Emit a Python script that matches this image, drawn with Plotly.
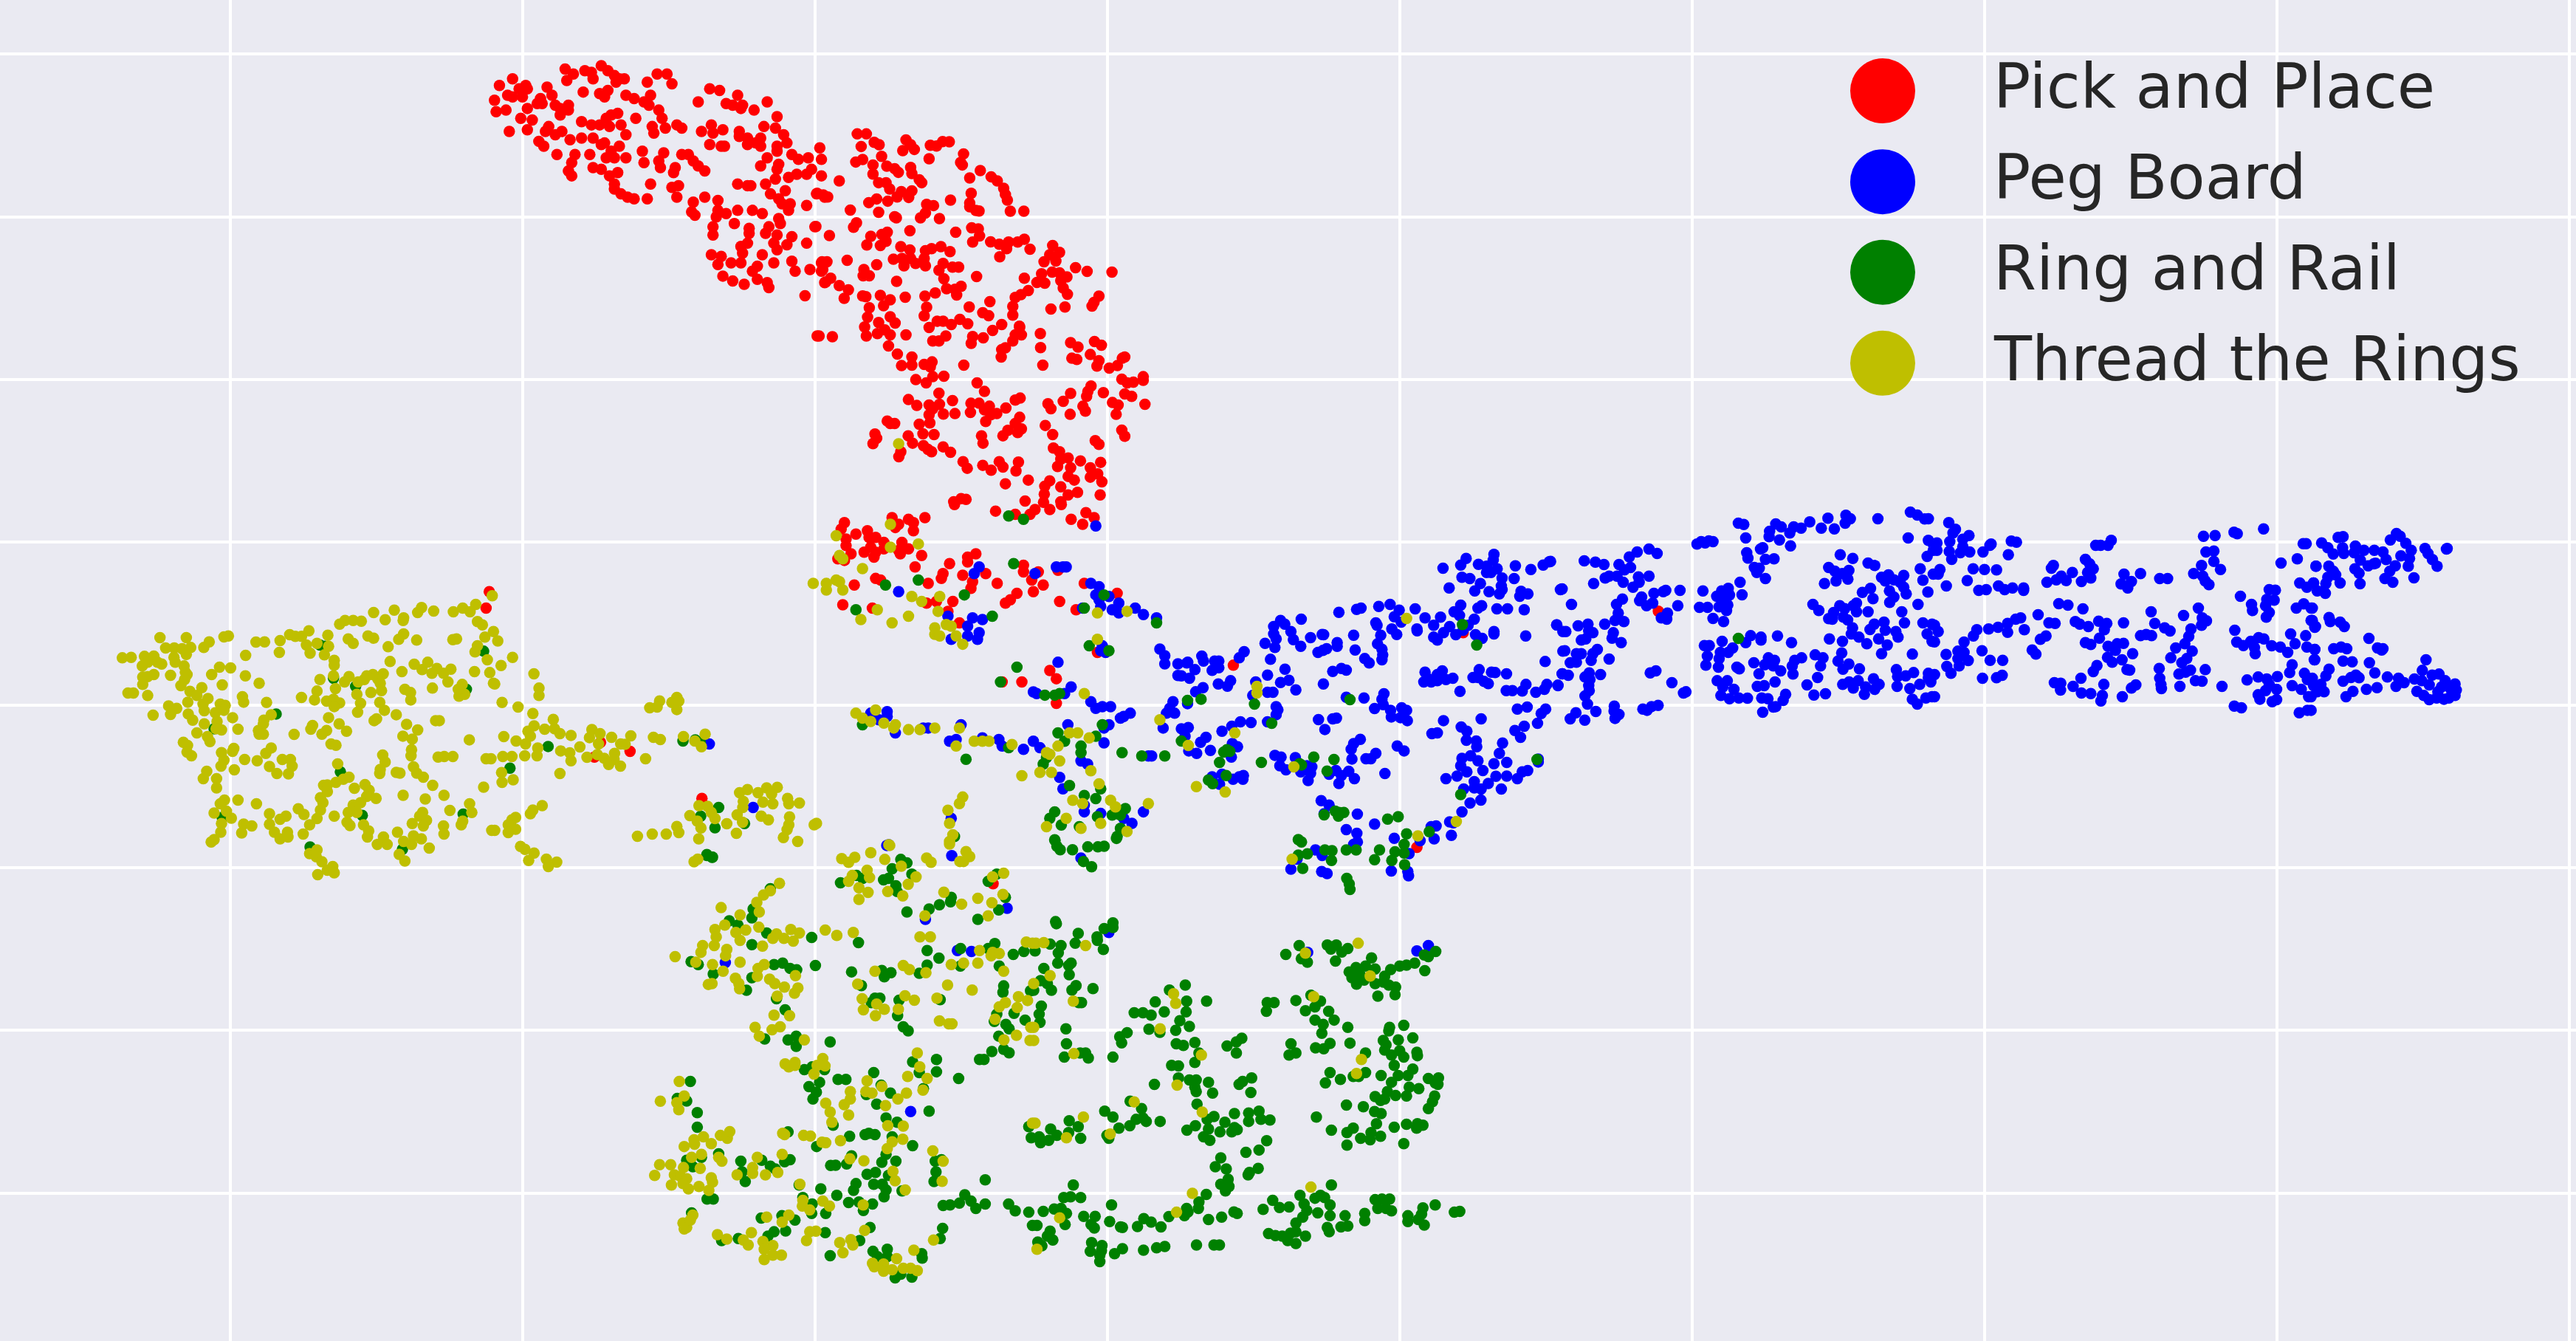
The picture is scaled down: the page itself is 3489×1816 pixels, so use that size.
import plotly.graph_objects as go

categories = ["Pick and Place", "Peg Board", "Ring and Rail", "Thread the Rings"]
colors = ["#ff0000", "#0000ff", "#008000", "#bfbf00"]
x_ticks = [140, 318, 496, 674, 852, 1030, 1208, 1386, 1564]
y_ticks = [33, 132, 231, 330, 429, 528, 627, 726]

# Unlabelled embedding: the axes use an arbitrary unit. Readings below come in groups; groups read
# on a finer scale are brought to the axis unit by to_units().
def to_units(pts, x0, y0, sx=3.0, sy=3.0):
    return [((x0 + a / sx) / 2.225, (y0 + b / sy) / 2.225) for a, b in pts]

red_a = [(312,48),(304,52),(301,61),(302,68),(308,67),(310,80),(321,79),(317,72),(324,73),(321,66),(329,60),(327,63),(330,63),(309,58),(312,59),(318,59),(316,54),(320,52),(321,54),(333,53),(336,58),(338,64),(346,64),(346,67),(341,70),(341,66),(344,42),(349,45),(345,49),(356,43),(360,44),(361,48),(355,56),(366,40),(370,43),(374,46),(375,50),(380,48),(377,48),(370,55),(365,57),(368,59),(381,58),(386,60),(392,62),(394,50),(400,45),(406,45),(409,51),(396,58),(395,64),(401,67),(403,72),(387,72),(376,69),(372,70),(369,72),(354,74),(360,76),(365,76),(371,77),(378,76),(381,82),(397,77),(398,81),(405,78),(412,76),(415,78),(334,77),(332,80),(338,82),(342,80),(347,85),(354,84),(361,84),(328,86),(331,89),(339,94),(350,94),(359,94),(348,99),(346,104),(348,107),(366,88),(368,87),(377,89),(372,92),(369,96),(374,96),(381,96),(391,92),(392,99),(404,93),(401,98),(402,102),(415,94),(419,94),(422,98),(425,101),(429,104),(411,102),(410,105),(361,102),(366,103),(371,107),(376,105),(374,112),(374,115),(378,118),(382,120),(386,121),(396,112),(394,121),(413,113),(409,114),(412,120),(422,123),(421,129),(423,131),(429,120),(437,122),(437,128),(436,132),(442,130),(449,128),(458,128),(464,130),(434,138),(434,143),(447,136),(456,139),(456,142),(455,148),(451,150),(452,154),(433,155),(439,156),(437,161),(445,160),(451,160),(440,168),(446,171),(453,173),(461,170),(458,165),(461,162),(464,155),(471,160),(467,172),(468,175),(466,142),(468,138),(474,133),(475,136),(473,143),(471,148),(473,152),(479,149),(482,144),(491,148),(496,138),(482,159),(484,165),(493,164),(500,160),(500,165),(490,180),(502,172),
(432,54),(438,55),(425,62),(442,63),(449,58),(446,64),(452,64),(451,66),(459,67),(467,62),(473,71),(465,77),(472,78),(477,82),(479,87),(473,89),(473,92),(467,96),(463,101),(474,100),(473,103),(472,109),(466,112),(469,118),(478,116),(474,121),(476,124),(481,124),(480,128),(491,125),(497,118),(502,120),(480,108),(485,106),(491,106),(494,103),(500,107),(482,94),(486,97),(492,96),(499,90),(500,97),(433,76),(434,81),(440,79),(427,80),(432,88),(439,89),(441,89),(450,80),(450,83),(455,84),(455,88),(463,84),(460,87),(463,89),(449,112),(455,113),(457,113),
(514,318),(512,322),(515,328),(515,332),(518,337),(510,340),(514,341),(521,325),(528,323),(529,327),(533,327),(538,330),(530,333),(526,336),(532,339),(533,336),(538,334),(543,315),(547,319),(545,321),(553,316),(556,318),(556,323),(563,315),(549,330),(547,335),(553,334),(548,337),(561,338),(557,345),(606,311),(618,313),(627,313),(630,310),(639,310),(646,307),(652,316),(659,319),(661,312),(666,315),(581,307),(520,356),(533,352),(536,353),(565,355),(573,352),(574,349),(578,343),(586,350),(589,339),(589,342),(594,337),(600,349),(592,354),(591,358),(607,355),(623,344),(623,348),(628,353),(632,348),(635,356),(629,360),(619,361),(615,365),(612,367),(645,366),(655,371),(660,355),(680,361),(580,366),(570,366),(564,367),(577,372),(513,368),(531,370),(584,379),(610,415),(622,415),(639,408),(643,413),(643,428),(668,397),(644,347)]

red_b = [(183,64),(220,64),(199,115),(252,98),(272,108),(381,88),(400,108),(415,127),(368,132),(480,110),(505,113),(530,95),(557,96),(475,165),(615,145),(603,180),(610,190),(683,213),(640,243),(727,238),(752,255),(778,285),(785,310),(793,333),(805,378),(860,378),(646,305),(640,345),(640,360),(665,375),(678,377),(562,333),(282,155),(247,190),(247,227),(177,178),(205,168),(303,195),(335,205),(350,220),(400,200),(405,225),(435,250),(445,262),(270,262),(300,262),(315,288),(110,255),(20,305),(45,312),(63,320),(362,298),(345,320),(392,322),(405,295),(307,337),(262,328),(230,343),(155,373),(270,382),(335,400),(342,405),(465,350),(493,355),(460,385),(440,405),(517,408),(180,425),(168,443),(15,440),(70,477),(397,457),(583,463),(648,445),(675,450),(680,478),(652,503),(725,502),(760,512),(798,503),(835,503),(862,492),(885,532),(790,530),(762,563),(238,480),(222,515),(283,472),(305,463),(300,500),(277,517),(360,522),(397,535),(460,538),(485,530),(523,522),(560,542),(330,573),(365,570),(400,570),(373,600),(420,590),(460,600),(455,570),(532,590),(515,618),(535,652),(570,605),(595,605),(668,643),(142,577),(262,595),(40,583),(60,583),(43,615),(75,650),(55,665),(110,680),(147,697),(130,732),(210,615),(207,640),(232,640),(343,663),(205,722),(218,725),(277,720),(317,738),(290,762),(378,727),(458,723),(500,710),(546,693),(580,695),(605,683),(587,718),(232,770),(225,808),(213,848),(220,885),(270,830),(265,875),(295,860),(317,880),(310,925),(317,807),(337,832),(381,880),(465,768),(455,803),(475,850),(508,825),(532,825),(565,838),(600,817),(632,835),(638,767),(722,745),(693,790),(717,802),(770,838),(733,862),(20,885),(28,885),(82,888),(490,905),(515,905),(543,885),(652,887),(646,915),(695,892),(770,940),(785,933),(768,970),(815,905),(825,880),(843,850),(850,880),(842,845),(815,800),(815,765),(825,728),(848,717),(878,700),(862,650),(913,667),(932,632),(945,670),(942,583),(965,555),(977,517),(1005,545),(990,580),(975,625),(1005,628),(1035,645),(1010,660),(1020,690),(1037,715),(1070,607),(1117,622),(1218,625),(1165,723),(1145,748),(1137,763),(970,775),(1027,767),(927,875),(928,932),(937,1003),(1050,912),(1080,930),(1055,975),(1075,980),(1130,960),(1165,985),(1157,1007),(1207,1015),(1240,1005),(1260,975),(1270,970),(1147,907),(1175,922),(1258,1060),(1280,1075),(1305,1072),(1345,1050),(1345,1065),(1298,1130),(1270,1120),(1352,1162),(1183,1115),(1133,1088),(1120,1110),(1115,1130),(1050,1118),(1020,1150),(958,1160),(970,1180),(1048,1203),(1100,1170),(1110,1190),(1220,1155),(1243,1165),(1235,1203),(1258,1267),(1270,1292),(947,1248),(977,1285),(1150,1310),(1165,1325),(980,1340),(1005,1355),(1040,1380),(1010,1385),(997,1415),(1050,1420),(1090,1392),(1130,1420),(1160,1445),(1172,1398),(1177,1477),(1130,1458),(1040,1455),(1065,1470),(965,1473),(945,1495),(1010,1497),(1078,1520),(943,1527),(1040,1530),(1170,1530),(865,1555),(940,1560),(1010,1558),(605,1545),(575,1558),(625,1548),(878,1470),(785,1485),(838,1397),(828,1433),(760,1395),(775,1417),(727,1430),(693,1410),(630,1422),(613,1395),(562,1357),(532,1335),(495,1285),(485,1355),(470,1345),(452,1330),(408,1320),(390,1290),(450,1282),(435,1243),(478,1238),(475,1205),(533,1202),(580,1200),(570,1147),(517,1162),(475,1165),(490,1180),(425,1167),(391,1143),(515,1117),(670,1075),(700,1110),(645,1158),(678,1158),(720,1170),(700,1185),(643,1195),(725,1205),(705,1232),(750,1200),(787,1177),(825,1145),(845,1137),(843,1215),(825,1240),(850,1262),(835,1277),(795,1268),(775,1290),(688,1290),(694,1320),(317,1240),(335,1240),(305,1230),(255,1283),(262,1300),(247,1322),(360,1355),(352,1375),(421,1062),(463,1075),(490,1050),(535,1048),(480,1010),(487,990),(455,1000),(405,970),(405,1003),(363,1005),(346,958),(616,1003)]
red_c = [(1538,33),(1525,100)]
red_d = [(211,512),(1145,380),(957,1252)]
red_e = [(438,473)]
red_f = [(1395,168)]
red_g = [(445,255),(420,315),(565,292),(857,483)]

blue_a = [(667,320),(593,349),(596,345),(630,349),(643,345),(647,345),(649,345),(664,355),(669,357),(667,362),(675,363),(669,365),(670,369),(659,370),(677,371),(681,367),(681,373),(691,370),(696,374),(704,376),(547,360),(577,375),(592,376),(598,377),(589,381),(596,385),(589,387),(595,389),(579,389),(671,393),(670,396),(673,397),(706,395),(709,399),(709,404),(717,404),(723,403),(717,411),(644,403),(652,418),(629,421),(631,422),(648,422),(664,427),(667,431),(671,430),(676,430),(682,437),(684,436),(688,434),(714,427),(712,431),(715,434),(710,434),(708,443),(675,441),(672,443),(650,441),(672,452),(658,463),(662,465),(645,473),(647,480),(629,451),(633,455),(623,456),(610,454),(608,450),(598,449),(585,441),(582,450),(578,451),(565,443),(562,443),(540,433),(540,436),(530,434),(535,438),(545,446),(699,460),(701,460),(660,490),(660,494),(670,495),(696,494),(684,498),(689,501),(579,498),(541,514)]
blue_b = [(22,503),(83,475),(90,495),(135,495),(152,495),(55,530),(125,533),(152,522),(33,565),(0,555),(255,457),(235,482),(150,588),(187,597),(200,575),(88,603),(58,620),(25,668),(302,580),(290,635),(350,552),(421,528),(403,582),(437,573),(465,612),(350,622),(372,622),(385,680),(392,693),(385,713),(350,742),(340,423),(375,355),(375,385),(403,330),(420,345),(445,375),(455,408),(485,435),(385,405),(380,440),(362,488),(487,325),(525,400),(572,387),(578,388),(633,420),(633,435),(590,445),(575,452),(555,460),(640,297),(712,285),(730,280),(700,390),(706,450),(745,485),(763,503),(615,537),(650,525),(670,532),(577,588),(790,340),(795,350),(810,390),(797,425),(815,447),(818,470),(815,490),(855,365),(875,387),(802,273),(848,265),(885,288),(865,315),(893,337),(950,283),(957,365),(958,372),(990,320),(1025,350),(1053,317),(1025,398),(1040,410),(1065,380),(1090,355),(1115,388),(1190,325),(1165,350),(1135,268),(1108,295),(1130,310),(1205,280),(1220,270),(1195,388),(1222,403),(1270,375),(1270,385),(1282,283),(1325,283),(1393,287),(1399,393),(1525,348),(1550,375),(1063,118),(1135,105),(1157,78),(1140,155),(1172,160),(1207,102),(1240,110),(1240,135),(1258,135),(1283,120),(1270,62),(1267,85),(1303,158),(1215,180),(1192,210),(1088,198),(1250,213),(1303,205),(1292,222),(1300,190),(1352,160),(1357,108),(1420,123),(1470,105),(1495,92),(1380,212),(1408,222),(1375,232),(1545,203),(990,540),(1000,565),(985,580),(1040,550),(1060,535),(1040,575),(1075,570),(1103,565),(1015,580),(1185,562),(1210,530),(1205,562),(1230,578),(1247,587),(1260,540),(1275,542),(1321,547),(1132,618),(1320,615),(1345,615),(1385,617),(1400,590),(1440,622),(1475,610),(1485,590),(1530,595),(1478,497),(1550,455),(1548,547),(670,642),(742,645),(823,628),(815,650),(785,688),(820,672),(850,695),(853,722),(890,725),(918,737),(895,685),(915,695),(557,733),(615,730),(630,727),(583,773),(1065,737),(1218,730),(1365,690),(1405,682),(1462,708),(1480,690),(1447,748),(1355,777),(1393,760),(1378,805),(1137,763),(1160,780),(1018,790),(1040,787),(1158,817),(1198,820),(1200,843),(727,813),(700,830),(690,853),(693,893),(790,870),(770,892),(750,892),(877,840),(905,860),(1305,828),(1292,870),(1270,912),(1322,907),(1175,880),(1140,890),(1135,920),(1160,945),(1205,900),(1225,940),(1120,962),(1075,973),(1278,963),(1322,962),(1365,973),(1385,945),(1407,940),(1190,985),(1247,992),(1300,1015),(1190,1010),(1218,1015),(1147,1015),(1217,1060),(1173,1072),(1140,1108),(1105,1152),(1097,1203),(1450,893),(1450,905),(1035,1165),(1015,1168),(1027,1217),(970,1225),(865,1215),(925,1277),(380,878),(405,885),(400,920),(425,937),(463,887),(485,945),(510,920),(530,925),(515,980),(525,950),(600,955),(628,940),(640,992),(650,960),(680,943),(703,973),(827,952),(568,1062),(600,1080),(580,1115),(715,1117),(785,1157),(670,1180),(713,1195),(715,1230),(700,1240),(545,1262),(572,1285),(470,1300),(445,1340),(570,1350),(592,1358),(853,1348),(920,1350),(923,1367),(0,770),(28,765),(15,800),(30,860),(62,870),(78,825),(100,805),(118,858),(165,780),(205,760),(240,742),(283,745),(207,830),(228,843),(203,885),(125,965),(165,955),(155,995),(210,975),(235,965),(250,975),(252,960),(1145,370),(1090,1148)]
blue_c = [(0,270),(137,268),(182,273),(217,283),(278,283),(320,252),(352,232),(400,220),(433,238),(325,295),(300,305),(238,330),(222,338),(270,330),(357,333),(400,330),(295,355),(335,375),(360,355),(175,360),(47,382),(40,385),(85,445),(292,423),(268,445),(370,415),(362,430),(390,450),(415,440),(420,400),(458,393),(468,388),(526,388),(517,450),(475,480),(450,500),(472,505),(275,480),(298,515),(262,510),(220,525),(255,560),(250,582),(287,600),(25,528),(62,555),(112,532),(152,525),(155,553),(172,560),(125,590),(143,585),(58,633),(105,645),(125,645),(190,628),(172,645),(165,672),(238,667),(105,680),(80,682),(47,727),(72,733),(157,723),(140,740),(203,730),(160,750),(155,775),(157,795),(140,817),(150,850),(184,880),(30,773),(103,885),(80,910),(139,915),(259,858),(258,878),(278,892),(262,908),(375,870),(392,875),(410,860),(437,855),(405,723),(428,715),(493,763),(540,805),(550,800),(595,200),(612,190),(628,195),(643,187),(660,190),(763,115),(785,120),(793,175),(797,235),(802,257),(862,215),(853,220),(873,262),(908,260),(915,118),(937,130),(890,148),(888,170),(930,183),(975,207),(972,155),(988,130),(1018,135),(1053,110),(1127,95),(1100,135),(1153,138),(1197,115),(1200,83),(1218,97),(1330,97),(1462,70),(1490,82),(1520,98),(1535,97),(1453,175),(1535,185),(1555,200),(1530,250),(1555,225),(828,295),(848,298),(838,315),(873,340),(770,355),(722,380),(695,390),(675,412),(727,407),(705,420),(778,406),(619,390),(605,457),(638,457),(720,447),(685,455),(715,470),(660,502),(703,515),(813,572),(855,578),(855,590),(793,600),(922,573),(979,600),(697,595),(740,622),(625,612),(645,612),(637,655),(690,640),(685,665),(722,640),(631,692),(682,700),(757,700),(767,707),(826,682),(885,662),(910,672),(870,690),(905,695),(935,715),(847,727),(1020,662),(992,672),(982,695),(985,728),(912,760),(1085,742),(1042,772),(1070,813),(1117,808),(677,755),(718,755),(700,780),(745,790),(692,815),(727,828),(765,825),(800,826),(840,778),(868,775),(858,825),(883,828),(955,810),(945,835),(915,860),(905,862),(862,883),(1075,650),(1107,662),(1097,695),(1183,642),(1168,675),(1212,687),(1188,708),(1255,707),(1187,770),(1213,760),(1230,785),(1250,755),(1275,810),(1280,780),(1312,747),(1335,770),(1317,790),(1133,585),(1186,595),(1177,243),(1228,258),(1290,277),(1317,287),(1130,295),(1155,310),(1212,307),(1185,320),(1208,342),(1160,350),(1113,360),(1066,445),(1090,470),(1130,503),(1145,505),(1150,478),(1175,450),(1195,462),(1190,497),(1207,508),(1227,540),(1222,565),(1253,578),(1285,605),(1243,475),(1243,440),(1230,450),(1267,396),(1300,380),(1310,422),(1290,475),(1345,335),(1373,325),(1360,350),(1395,345),(1420,355),(1435,327),(1435,375),(1445,402),(1377,390),(1395,415),(1378,437),(1493,445),(1427,475),(1438,520),(1502,300),(1513,347),(1533,395),(1555,322),(1315,525),(1298,547),(1355,517),(1360,550),(1403,555),(1412,578),(1333,585),(1368,610),(1345,645),(1470,647),(1513,520),(1550,525),(1530,565),(1550,595),(1405,710),(1410,738),(1443,735),(1475,722),(1408,778),(1460,787),(1500,770),(1535,725),(1535,745),(1545,760),(1470,830),(1490,850),(1525,825),(1550,820)]
blue_d = [(58,113),(85,140),(75,155),(140,165),(115,180),(62,190),(10,195),(10,225),(60,230),(115,210),(143,232),(70,262),(105,235),(225,205),(230,200),(197,232),(312,188),(333,192),(300,243),(22,303),(15,322),(157,300),(203,303),(252,305),(133,348),(48,370),(180,388),(210,385),(260,370),(285,385),(317,378),(362,378),(362,388),(483,287),(475,298),(457,355),(495,345),(515,330),(535,348),(560,315),(597,352),(635,338),(613,262),(630,280),(645,300),(622,315),(655,205),(675,205),(705,205),(718,185),(770,322),(758,362),(785,378),(800,352),(837,320),(915,340),(947,340),(1093,168),(1140,165),(1217,152),(1230,158),(1337,138),(1103,232),(1135,228),(1085,287),(1135,270),(1162,303),(1053,320),(1090,330),(1100,350),(1115,365),(1498,198),(1510,198),(1408,277),(1474,260),(1550,290),(1243,412),(1288,445),(1292,470),(1360,385),(1385,387),(1350,425),(1380,428),(1345,450),(1360,478),(1348,497),(1484,358),(1513,375),(1540,358),(1470,460),(1500,443),(1530,460),(1555,390),(505,442),(542,448),(603,463),(421,487),(465,520),(490,522),(453,573),(430,587),(397,630),(412,647),(572,515),(590,525),(625,535),(667,513),(700,522),(690,548),(670,582),(613,600),(635,608),(768,520),(705,615),(742,605),(768,603),(735,632),(805,645),(703,660),(722,680),(762,670),(782,710),(793,712),(660,693),(645,718),(595,745),(688,770),(563,778),(597,805),(635,807),(682,815),(676,837),(487,763),(513,765),(512,793),(763,820),(800,785),(818,772),(880,475),(895,522),(935,540),(957,553),(837,572),(860,567),(882,572),(1012,490),(1072,460),(1088,500),(1105,512),(1085,530),(1042,545),(1033,575),(1017,605),(980,622),(1047,635),(960,662),(1025,665),(1005,682),(1040,712),(1020,720),(993,728),(1060,755),(1087,757),(1100,710),(913,705),(915,745),(920,770),(922,787),(997,778),(1168,778),(1220,550),(1228,598),(1255,612),(1285,595),(1317,580),(1338,585),(1300,620),(1303,645),(1370,613),(1405,618),(1435,640),(1447,565),(1465,605),(1508,572),(1513,618),(1545,628),(1530,510),(1545,538),(1543,670),(1453,690),(1443,722),(1270,752),(1315,740),(1350,748),(1393,738),(1360,770),(1390,790),(1315,812),(1322,830),(1345,795),(1372,840),(1390,832),(1218,858),(1247,865),(1482,885),(1515,875),(1503,725),(1515,750),(1453,775),(1490,790),(1520,820),(1540,775),(1555,780),(195,745),(252,743),(275,733),(193,633),(226,672),(277,672),(120,598),(158,573),(172,548),(220,545),(258,538),(297,522),(297,558),(330,505),(350,500),(365,548),(47,648),(50,697),(67,725),(100,695),(95,635),(120,640),(95,665),(137,673),(0,730),(0,820),(0,530),(15,555),(0,597)]
blue_e = [(43,135),(68,155),(90,180),(110,113),(130,110),(128,155),(133,178),(180,148),(175,175),(200,205),(215,165),(257,165),(292,172),(305,203),(232,228),(255,220),(262,218),(178,240),(195,258),(199,301),(300,280),(320,250),(342,228),(332,295),(322,123),(347,97),(362,108),(385,137),(407,165),(365,188),(400,198),(395,230),(418,277),(463,158),(475,178),(493,203),(512,230),(553,158),(550,160),(20,230),(72,230),(90,250),(100,265),(68,275),(118,298),(60,300),(50,330),(58,340),(10,298),(5,400),(5,450),(18,475),(73,438),(78,455),(118,457),(135,475),(235,523),(270,562),(287,570),(292,565),(15,568),(92,565),(122,558),(145,565),(15,610),(130,615),(167,618),(237,622),(259,663),(73,648),(60,675),(5,685),(130,697),(162,682),(182,672),(195,683),(310,680),(355,685),(378,703),(345,718),(420,688),(452,653),(467,610),(492,672),(520,668),(450,695),(480,712),(430,738),(458,755),(480,772),(515,740),(545,695),(530,720),(585,708),(590,733),(585,755),(560,765),(540,770),(510,765),(565,725),(225,730),(268,723),(170,738),(142,760),(40,710),(53,740),(25,740),(0,760),(0,815)]
blue_f = [(963,37),(1227,72),(1120,290),(1452,252),(307,438),(1250,397),(1307,400),(1060,948)]
blue_g = [(173,80),(1445,380),(1403,398),(1003,403),(275,335)]
blue_h = [(887,262),(1065,520)]

green_a = [(614,314),(623,316),(559,353),(539,356),(521,371),(587,362),(617,343),(604,375),(672,362),(660,370),(704,379),(663,393),(675,396),(619,406),(609,415),(636,423),(642,423),(645,422),(525,441),(588,462),(614,455),(644,446),(648,451),(671,441),(667,448),(658,454),(658,458),(683,458),(695,460),(709,460),(637,461),(635,465),(651,478),(670,480),(660,484),(667,486),(685,492),(677,496),(682,496),(668,497),(642,494),(639,498),(646,502),(657,503),(682,504),(680,509),(642,511),(581,509)]
green_b = [(25,655),(80,650),(297,670),(367,748),(685,652),(1142,347),(1200,430),(172,865),(185,855),(197,862),(155,907),(325,907),(538,885),(620,895),(592,942),(480,912),(488,917),(182,960),(110,978),(127,993),(1445,895),(1135,1037),(580,1120),(625,1105),(640,1110),(660,1110),(638,1125),(838,1137),(881,1127),(475,1220),(488,1230),(915,1197),(905,1240),(905,1275),(868,1270),(855,1305),(907,1322),(1007,1188),(805,1262),(785,1302),(670,1262),(710,1262),(612,1265),(583,1262),(610,1305),(512,1278),(475,1283),(493,1337),(672,1378),(682,1400),(685,1423),(0,820)]
green_c = [(763,583)]
green_d = [(850,250),(870,255),(905,385),(995,418),(1515,275),(672,530),(420,590),(453,950),(933,765),(1022,942),(1432,937),(810,1070),(1185,1080),(1445,430)]
green_e = [(232,68),(255,77),(1020,85),(1045,97),(985,117),(840,140),(865,150),(775,165),(950,155),(970,150),(1000,175),(1005,195),(1065,135),(1135,255),(1177,240),(1225,215),(1222,230),(1045,265),(1333,290),(1418,258),(1445,215),(1375,160),(1410,135),(490,185),(420,255),(415,285),(323,295),(358,310),(475,337),(415,377),(658,352),(848,370),(168,435),(197,445),(258,477),(505,445),(540,440),(570,458),(597,463),(415,490),(393,533),(515,562),(550,600),(673,448),(820,470),(860,517),(943,465),(953,487),(980,473),(1095,475),(1127,447),(1127,397),(1175,423),(1263,390),(1262,450),(1420,450),(1477,410),(1520,400),(1375,390),(1402,373),(1013,567),(915,560),(935,560),(900,575),(1007,620),(1030,658),(1050,672),(1180,565),(1438,518),(1435,540),(1547,535),(1410,615),(1400,640),(1480,612),(1525,635),(1447,650),(1460,665),(1418,690),(1390,743),(1340,770),(1358,770),(1438,735),(1460,747),(562,703),(595,690),(595,725),(467,700),(733,710),(910,815),(765,838),(797,838),(628,805),(660,795),(710,805),(690,848),(647,863),(677,882),(663,905),(1165,770),(1165,812),(1068,778),(1095,815),(1255,835),(940,858),(880,890),(978,885),(922,923),(1135,947),(1112,870),(165,845),(112,903),(150,912),(193,952),(193,1002),(562,1018),(745,995),(960,970),(1005,985),(812,1033),(875,1027),(890,1023),(915,1027),(985,1035),(1068,1065),(678,1068),(1540,1000),(1550,1038),(820,1100),(735,1133),(755,1132),(800,1128),(370,1118),(455,1115),(490,1135),(510,1145),(548,1120),(570,1113),(280,1093),(210,1105),(150,1115),(175,1137),(375,1155),(388,1188),(943,1122),(1000,1118),(960,1095),(883,1163),(917,1157),(970,1167),(910,1197),(945,1197),(960,1217),(1025,1220),(952,1240),(838,1195),(828,1218),(1160,1118),(1185,1113),(1163,1155),(1155,1188),(1363,1182),(607,1200),(695,1213),(760,1235),(808,1260),(850,1258),(868,1287),(905,1265),(622,1243),(660,1265),(658,1297),(715,1297),(233,1248),(258,1248),(1192,1270),(1220,1268),(1258,1262),(1280,1233),(1305,1255),(1325,1280),(1363,1265),(1458,1265),(1485,1288),(1540,1293),(1555,1338),(170,1295),(453,1313),(537,1305),(590,1320),(552,1357),(505,1360),(480,1375),(360,1383),(292,1390),(713,1363),(853,1390),(895,1345),(1190,1348),(1180,1383),(733,1442),(907,1427),(965,1420),(965,1445),(925,1445),(1105,1435),(1107,1450),(997,1518),(1020,1505),(1065,1515)]
green_f = [(78,20),(85,40),(97,52),(142,52),(198,42),(235,42),(258,40),(303,13),(182,92),(212,110),
(80,298),(83,305),(290,302),(290,318),(258,322),(163,338),(232,350),(233,362),(152,372),(255,393),(60,375),(100,380),(5,398),(90,405),(88,440),(137,440),(128,448),(130,480),(37,458),(25,500),(50,510),(65,533),(0,533),(155,517),(140,532),(217,527),(175,575),(165,575),(28,587),(20,615),(23,643),(118,665),(120,716),(112,762),(170,748),(190,748),(200,765),(290,762),(555,515),(497,532),(560,570),(633,570),(445,573),(368,610),(400,610),(430,618),(478,607),(558,607),(535,637),(520,670),(570,657),(422,666),(462,677),(342,678),(315,692),(322,713),(522,716),(548,722),(590,712),(605,748),(590,780),(708,724),(742,710),(762,697),(742,748),(505,790),(530,792),(530,833),(570,840),(595,840),(590,865),(595,880),(640,848),(442,855),(655,885),(798,833),(765,845),(752,855),(795,883),(598,923),(660,965),(635,975),(735,955),(700,985),(735,1003),(745,1010),(725,1018),(682,1018),(640,1008),(622,1035),(645,1047),(592,997),(561,1012),(787,953),(825,947),(787,982),(832,975),(865,977),(853,1048),(825,1080),(777,1088),(353,913),(395,938),(400,970),(412,982),(375,975),(352,997),(312,1005),(463,982),(260,947),(290,967),(130,980),(163,1000),(62,1008),(85,1030),(20,1035),(25,1055),(55,1047),(128,1020),(172,1040),(275,1040),(268,1030),
(685,1107),(665,1137),(705,1145),(822,1143),(790,1157),(785,1165),(712,1180),(685,1197),(715,1205),(702,1220),(632,1232),(145,1200),(110,1243),(135,1240),(172,1243),(285,1268),(35,1290),(75,1282),(100,1280),(120,1297),(115,1335),(12,1338),(60,1358),(50,1375),(70,1388),(30,1408),(15,1395),(183,1307),(225,1307),(210,1335),(222,1347),(278,1325),(318,1343),(325,1345),(403,1315),(430,1327),(380,1342),(466,1343),(495,1308),(560,1280),(552,1305),(565,1292),(603,1280),(605,1258),(640,1318),(688,1310),(733,1292),(745,1297),(212,1397),(250,1407),(248,1425),(207,1427),(242,1440),(242,1462),(296,1435),(325,1418),(402,1423),(450,1415),(480,1410),(596,1405),(660,1405),(680,1405),
(875,1252),(900,1277),(935,1275),(840,1283),(975,1235),(1090,1200),(1030,1245),(1050,1235),(1065,1243),(1085,1268),(990,1265),(1000,1287),(1040,1295),(985,1310),(960,1330),(1085,1305),(1140,1305),(1125,1343),(1150,1340),(1075,1345),(1082,1360),(960,1360),(940,1365),(860,1366),(885,1373),(910,1375),(930,1390),(960,1400),(995,1375),(1212,1297),(1212,1322),(1250,1250),(1275,1248),(1303,1248),(1260,1280),(1290,1280),(1310,1288),(1370,1305),(1370,1325),(1425,1278),(1420,1300),(1408,1318),(1430,1337),(1470,1268),(1540,1293),(1560,1290),
(972,380),(923,410),(980,425),(1002,437),(1075,378),(1108,378),(1088,392),(1128,402),(1150,390),(1105,433),(1237,422),(1250,460),(1215,450),(1180,455),(1155,470),(1165,490),(1195,480),(1210,498),(1182,512),(1285,485),(1307,462),(1340,450),(1365,447),(1395,440),(1430,412),(1472,400),(1445,418),(1432,466),(1250,510),(1280,505),(1300,515),(1325,522),(1260,553),(1323,548),(960,568),(1015,550),(855,575),(880,575),(852,605),(995,603),(1050,570),(1030,590),(1080,605),(1100,635),(1030,635),(1060,650),(1055,680),(1150,660),(1158,714),(942,716),(935,755),(960,748),(1032,730),(1062,733),(1085,715),(1215,748),(1215,815),(1190,828),(1085,815),(1068,850),(1123,838),(1170,828),(1303,660),(1300,672),(1355,653),(1388,696),(1280,705),(1335,703),(1290,720),(1285,738),(1340,740),(1355,762),(1310,755),(1403,745),(1405,757),(1320,790),(1272,825),(1335,825),(1388,803),(1370,825),(1310,848),(1445,835),(1482,833),(1470,850),(1480,855),(1375,865),(1410,870),(1365,895),(1295,880),(1325,893),(1285,905),(1250,897),(1270,910),(1468,895),(1460,915),(1445,938),(1145,926),(1207,932),(1248,948),(1272,955),(1255,990),(1235,1020),(1270,1033),(1232,1045),(1197,1040),(1170,1005),(1147,1020),(1147,1063),(1090,1012),(1035,967),(1320,1002),(1365,992),(1405,990),(1402,1005),(1425,995),(1355,1058)]
green_g = [(232,272),(77,360),(780,250),(830,245),(850,255),(925,520),(910,602),(852,555),(1030,585),(877,715),(898,722)]

yellow_a = [(509,326),(542,319),(542,333),(559,331),(511,338),(513,340),(525,346),(495,355),(503,355),(503,359),(509,353),(511,354),(513,359),(555,363),(561,366),(572,363),(571,372),(534,371),(524,377),(543,379),(553,375),(668,389),(668,373),(686,372),(569,382),(569,386),(572,387),(576,380),(579,381),(582,387),(586,392),(660,422),(521,434),(533,432),(525,437),(530,439),(538,440),(545,441),(544,443),(553,444),(560,444),(569,443),(584,443),(582,454),(593,451),(598,451),(602,451),(616,453),(644,454),(637,458),(639,459),(651,446),(656,446),(663,449),(645,463),(633,470),(640,470),(622,472),(664,469),(669,477),(653,487),(659,489),(676,487),(679,491),(699,489),(649,498),(637,503),(658,504),(670,501),(686,506),(706,438),(586,485),(584,489),(577,493),(578,501),(580,508),(578,512),(497,501),(541,514),(547,270),(305,405),(312,400),(325,410),(303,390)]
yellow_b = [(915,322),(307,598),(307,625),(217,787),(28,838),(457,925),(61,1005),(178,1027),(1117,1147),(961,1205),(450,1300)]
yellow_c = [(47,302),(83,300),(137,296),(128,335),(175,295),(150,320),(190,320),(207,327),(200,220),(223,262),(258,262),(290,265),(325,260),(307,220),(307,288),(257,300),(262,320),(400,237),(378,260),(460,217),(478,213),(298,335),(303,360),(310,370),(300,390),(285,415),(130,380),(150,378),(175,370),(130,410),(243,373),(410,370),(442,340),(487,343),(453,412),(70,445),(92,445),(150,455),(322,438),(370,423),(350,455),(395,467),(375,490),(313,482),(235,497),(268,507),(243,532),(172,535),(380,517),(315,530),(333,555),(380,570),(350,607),(425,525),(445,490),(465,495),(460,515),(432,560),(428,590),(450,595),(495,545),(517,592),(295,645),(312,658),(310,685),(328,700),(393,622),(403,642),(450,687),(500,670),(495,682),(460,718),(448,742),(502,757),(390,763),(376,793),(430,793),(430,830),(544,715),(595,720),(630,690),(652,668),(645,743),(675,772),(697,715),(730,715),(737,742),(722,773),(462,880),(445,895),(420,932),(470,925),(490,953),(517,880),(592,895),(450,975),(447,1010),(420,1040),(408,1050),(540,977),(573,985),(532,1013),(645,935),(645,978),(665,1010),(688,1037),(718,1010),(720,1030),(688,958),(712,945),(762,915),(785,938),(782,1018),(808,980),(838,955),(852,920),(862,890),(852,870),(880,845),(865,820),(880,818),(915,808),(945,795),(968,787),(922,733),(908,945),(990,832),(1033,817),(1050,840),(1040,865),(1015,890),(985,900),(1078,873),(965,930),(960,970),(972,983),(1000,930),(1027,980),(1048,1005),(1043,1030),(1083,1060),(1108,1030),(1123,1060),(1165,1010),(1190,1048),(1222,1060),(1230,1025),(1262,1037),(1225,975),(1255,945),(1267,930),(1283,962),(1270,985),(1294,1075),(1172,1100),(1195,1127),(838,1082),(808,1097),(835,1110),(858,1130),(880,1165),(902,1150),(908,1175),(841,1183),(1188,860),(1278,875),(1354,860),(1308,820),(1378,922),(1458,895),(1467,930),(1430,965),(1424,980),(1352,985),(1354,1018),(1548,1003),(1515,827),(1270,787),(1243,770),(1230,745),(1220,700),(1222,675),(1225,632),(1187,620),(1247,595),(1202,572),(1160,533),(1112,515),(1093,483),(1080,550),(1070,557),(1105,697),(1115,725),(1095,755),(1093,772),(1160,767),(1175,770),(1330,705),(1355,703),(1390,703),(1457,635),(1525,712),(1320,557),(1335,557),(1219,473),(1218,443),(1195,430),(1307,425),(1415,458),(1438,450),(1428,410),(1412,430),(1370,400),(1382,348),(1352,365),(1325,345),(1305,365),(1265,350),(1288,320),(1233,328),(1183,358),(1135,317),(1107,367),(1085,388),(1065,370),(1040,375),(1095,405),(1100,435),(1057,443),(1000,450),(1015,487),(1003,523),(1005,400),(1030,390),(968,378),(950,400),(913,427),(905,375),(850,390),(838,437),(828,473),(775,463),(877,478),(905,470),(930,485),(908,500),(885,545),(928,570),(958,600),(877,597),(858,612),(820,577),(813,592),(745,613),(895,652),(915,657),(652,533),(622,555),(620,570),(600,597),(603,612),(620,612),(633,483),(535,460),(540,482),(603,405),(547,375),(548,292),(685,280),(688,232),(590,238),(625,237),(727,208),(750,215),(775,215),(805,192),(795,250),(810,283),(838,243),(868,290),(885,255),(882,210),(908,312),(908,332),(930,165),(952,150),(985,150),(1018,153),(1068,118),(1115,147),(1152,108),(1190,140),(1188,150),(1247,118),(1263,98),(1312,112),(1392,115),(1430,100),(1460,115),(1483,85),(1490,155),(1510,168),(1520,218),(1490,253),(1480,278),(1530,310),(1478,358),(1540,362),(1555,405),(1555,195),(1550,50),(1390,228),(1405,225),(1243,230),(1190,205),(1170,227),(1127,257),(1045,213),(1068,222),(965,225),(985,243)]
yellow_d = [(975,37),(780,82),(808,95),(833,78),(898,62),(955,85),(1022,108),(1125,80),(1143,95),(1218,32),(1285,58),(1300,75),(1260,92),(1275,92),(823,140),(808,160),(883,122),(893,147),(850,182),(887,198),(850,222),(967,195),(1050,170),(1082,145),(1028,210),(1195,197),(1267,238),(1118,278),(1333,218),(1393,145),(1438,132),(1435,205),(1390,233),(1375,278),(527,167),(490,192),(462,207),(435,232),(445,265),(290,250),(367,275),(305,310),(265,325),(270,350),(262,380),(215,380),(208,403),(313,393),(308,415),(103,418),(187,437),(255,445),(367,437),(298,468),(390,327),(350,335),(367,362),(443,317),(458,382),(515,340),(500,355),(545,355),(573,325),(608,337),(583,365),(713,327),(760,345),(827,335),(465,445),(440,458),(437,485),(487,495),(508,510),(547,522),(592,483),(602,525),(588,543),(518,553),(348,492),(362,510),(365,528),(253,510),(238,513),(505,618),(568,620),(530,658),(497,668),(428,660),(445,690),(628,703),(1098,350),(1140,350),(1030,448),(1055,462),(1122,473),(915,468),(845,512),(863,562),(1037,552),(1075,567),(868,600),(922,580),(953,598),(917,620),(1010,598),(1167,560),(1210,515),(1310,532),(1225,445),(1275,440),(1333,440),(1340,397),(1387,415),(1393,403),(1420,407),(1438,468),(1177,638),(1215,648),(1228,648),(1403,632),(1420,590),(1445,575),(1493,592),(1498,555),(1535,568),(1530,368),(1555,372),(1548,660),(1490,687),(1439,703),(1545,705),(1555,988),(550,785),(565,795),(590,780),(590,790),(703,767),(680,790),(712,792),(667,820),(1087,748),(1097,795),(1048,828),(1127,835),(883,843),(943,862),(878,880),(903,885),(815,880),(815,905),(790,925),(715,920),(733,950),(808,960),(740,985),(958,928),(1043,885),(1008,905),(1110,875),(120,845),(140,895),(43,913),(110,918),(118,942),(967,997),(1030,998),(540,1023),(548,1027),(625,1030),(653,1032),(700,1053),(715,1055),(775,1048),(1028,1043),(985,1052),(965,1075),(1150,1083),(1192,1118),(988,1153),(997,1185),(1188,1187),(1038,1217),(813,1110),(870,1117),(538,1095),(610,1197),(437,1105),(170,1105),(210,1095),(280,1105),(293,1118),(140,1068),(180,1045),(218,1035),(182,1060),(250,1058),(287,1030),(315,1040),(325,1017),(40,1130),(85,1130),(137,1140),(205,1143),(20,1167),(100,1165),(125,1170),(150,1178),(88,1200),(135,1195),(157,1213),(200,1205),(250,1175),(255,1190),(240,1218),(355,1165),(418,1140),(418,1160),(470,1165),(520,1157),(622,1252),(620,1272),(650,1285),(703,1255),(730,1272),(867,1268),(175,1303),(135,1330),(150,1345),(140,1350),(165,1320),(475,1310),(565,1303),(538,1327),(275,1370),(313,1385),(380,1388),(413,1363),(400,1405),(460,1393),(500,1407),(465,1420),(465,1455),(500,1440),(535,1440),(650,1360),(675,1358),(637,1390),(772,1397),(817,1387),(825,1405),(873,1355),(785,1432),(1153,1388),(1073,1423),(1003,1452),(905,1468),(912,1480),(950,1470),(950,1495),(985,1490),(1030,1485),(1060,1485),(1087,1493)]
yellow_e = [(8,372),(37,370),(190,380),(60,483),(0,510),(145,570),(512,545),(520,578),(463,665),(0,660),(0,705),(147,750),(614,755),(525,858),(368,915),(617,950),(182,967),(5,988),(120,1038),(280,1025),(581,1228),(1015,1207),(523,1293),(95,1312),(12,1420),(1188,372),(995,406),(1025,555),(1232,484),(1200,770),(1182,818)]
yellow_f = [(15,18),(195,35),(195,65),(45,93),(110,112),(170,138),(253,162),(175,188),(150,210),(218,202),(258,200),(280,220),(325,227),(52,232),(102,250),(140,262),(190,278),(160,230),(283,290),(320,298),(325,330),(187,310),(137,310),(85,313),(48,313),(0,322),(361,274),(390,316),(280,382),(43,378),(45,418),(90,407),(410,203),(443,220),(400,236),(437,262),(490,235),(527,262),(568,229),(545,263),(432,305),(460,320),(502,300),(500,325),(478,345),(526,352),(628,322),(660,235),(688,244),(645,115),(685,87),(675,112),(755,73),(735,93),(763,88),(755,122),(782,232),(828,250),(870,222),(855,273),(208,512),(170,530),(160,545),(100,560),(85,570),(70,590),(100,608),(70,622),(15,613),(120,678),(138,690),(175,705),(153,735),(225,730),(267,742),(233,760),(845,512),(880,515),(808,553),(838,575),(895,540),(910,565),(853,603),(844,647),(958,586),(997,625),(1000,550),(1022,580),(1023,520),(1010,460),(1042,447),(1085,460),(1025,495),(1105,498),(1120,440),(1163,438),(1140,465),(1145,505),(1205,483),(1210,505),(1253,502),(1098,555),(1127,570),(1213,558),(1210,590),(1203,610),(1188,642),(1246,658),(755,597),(763,622),(712,628),(655,628),(595,637),(1313,590),(840,730),(825,740)]

zy6 = 1568 / 620
zx7 = 1568 / 580
pick_and_place = (red_a + to_units(red_b, 1100, 160) + to_units(red_c, 150, 790) + to_units(red_d, 1600, 730)
                  + to_units(red_e, 2100, 670) + to_units(red_f, 880, 1130, 3, zy6) + to_units(red_g, 665, 920))
peg_board = (blue_a + to_units(blue_b, 1600, 730) + to_units(blue_c, 2100, 670) + to_units(blue_d, 2620, 670)
             + to_units(blue_e, 3130, 690) + to_units(blue_f, 880, 1130, 3, zy6)
             + to_units(blue_g, 1400, 1130, zx7, zy6) + to_units(blue_h, 665, 920))
ring_and_rail = (green_a + to_units(green_b, 1600, 730) + to_units(green_c, 2100, 670) + to_units(green_d, 150, 790)
                 + to_units(green_e, 880, 1130, 3, zy6) + to_units(green_f, 1400, 1130, zx7, zy6) + to_units(green_g, 665, 920))
thread_the_rings = (yellow_a + to_units(yellow_b, 1600, 730) + to_units(yellow_c, 150, 790)
                    + to_units(yellow_d, 880, 1130, 3, zy6) + to_units(yellow_e, 1400, 1130, zx7, zy6) + to_units(yellow_f, 665, 920))

series = [pick_and_place, peg_board, ring_and_rail, thread_the_rings]
legend_y = [55.3, 110.6, 165.7, 221]
legend_marker_x = 1146
label_x = 1212.5
label_shift = -2.7

fig = go.Figure()
for name, pts, color in zip(categories, series, colors):
    fig.add_trace(go.Scatter(x=[p[0] for p in pts], y=[p[1] for p in pts], mode="markers", name=name,
                             marker=dict(color=color, size=15.5, line=dict(width=0)), showlegend=False))
fig.add_trace(go.Scatter(x=[legend_marker_x] * 4, y=legend_y, mode="markers",
                         marker=dict(color=colors, size=88, line=dict(width=0)), showlegend=False, hoverinfo="skip"))
for name, y in zip(categories, legend_y):
    fig.add_annotation(x=label_x, y=y + label_shift, xref="x", yref="y", text=name, showarrow=False, xanchor="left", yanchor="middle",
                       font=dict(family="DejaVu Sans", size=83.5, color="#262626"))
axis = dict(showticklabels=False, ticks="", showgrid=True, gridcolor="white", gridwidth=4, zeroline=False, showline=False)
fig.update_xaxes(range=[0, 1568], tickvals=x_ticks, **axis)
fig.update_yaxes(range=[816, 0], tickvals=y_ticks, **axis)
fig.update_layout(width=3489, height=1816, margin=dict(l=0, r=0, t=0, b=0), plot_bgcolor="#EAEAF2", paper_bgcolor="#EAEAF2")
fig.write_html("out.html", config={"displayModeBar": False},
               post_script="document.body.style.margin='0';document.body.style.overflow='hidden';")
